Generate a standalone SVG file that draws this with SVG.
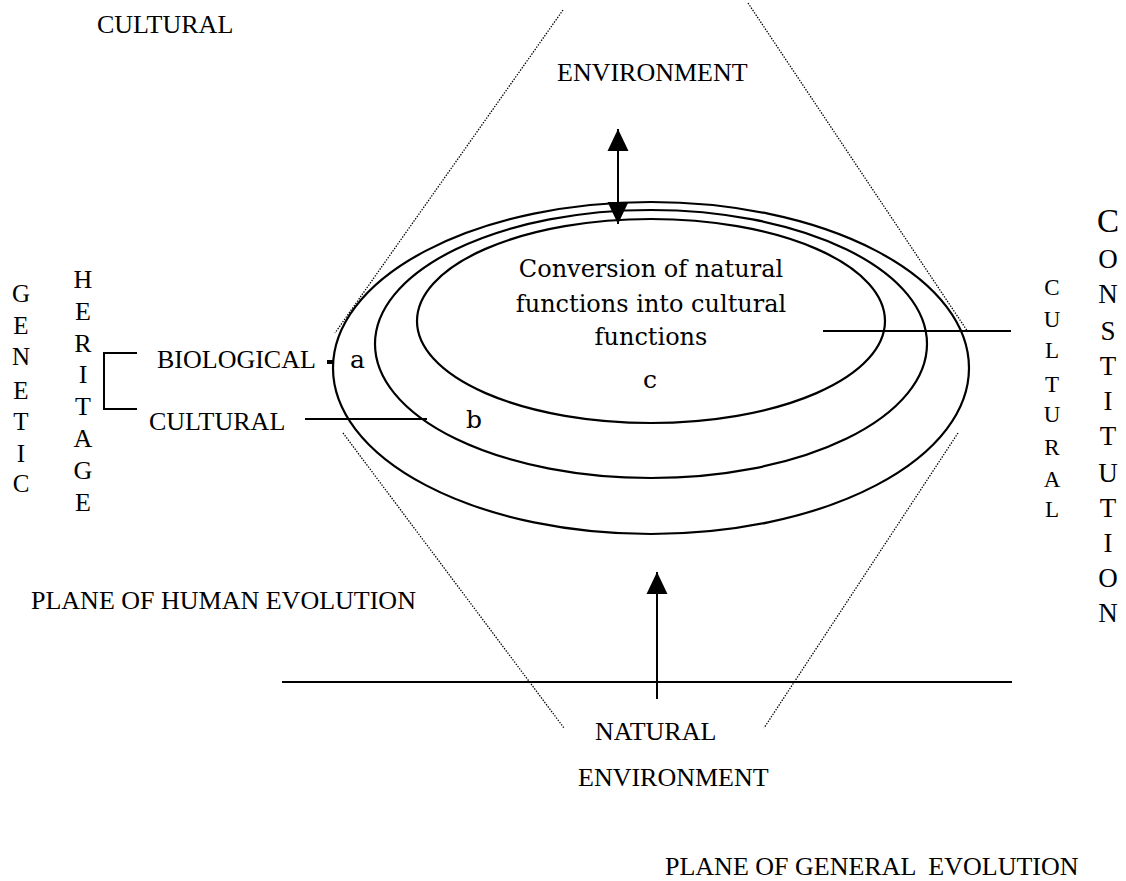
<svg xmlns="http://www.w3.org/2000/svg" width="1126" height="881" viewBox="0 0 1126 881">
<style>
.t{font-family:"Liberation Serif","Times New Roman",serif;font-size:26px;fill:#000}
.v{font-family:"Liberation Serif","Times New Roman",serif;font-size:26px;fill:#000;text-anchor:middle}
.s{font-family:"DejaVu Serif",serif;font-size:24px;fill:#000}
.ln{stroke:#000;stroke-width:2;fill:none}
.el{stroke:#000;stroke-width:2.2;fill:none}
.dot{stroke:#000;stroke-width:1.3;stroke-dasharray:1.4 1.4;fill:none}
</style>
<defs>
<marker id="ah" markerUnits="userSpaceOnUse" markerWidth="22" markerHeight="22" viewBox="0 0 21 20" refX="21" refY="10" orient="auto-start-reverse">
<path d="M0,0 L21,10 L0,20 z" fill="#000"/>
</marker>
</defs>
<rect width="1126" height="881" fill="#fff"/>

<g id="cone">
<line class="dot" x1="563" y1="10" x2="335" y2="333"/>
<line class="dot" x1="748" y1="3" x2="968" y2="332"/>
<line class="dot" x1="343" y1="433" x2="564" y2="728"/>
<line class="dot" x1="958" y1="433" x2="764" y2="728"/>
</g>

<g id="ellipses">
<ellipse id="outer-a" class="el" cx="651" cy="368" rx="318" ry="166"/>
<ellipse id="middle-b" class="el" cx="651" cy="344" rx="276" ry="134"/>
<ellipse id="inner-c" class="el" cx="651" cy="321" rx="234" ry="102"/>
</g>

<g id="connectors">
<line class="ln" x1="618" y1="224" x2="618" y2="129" marker-start="url(#ah)" marker-end="url(#ah)"/>
<line class="ln" x1="657" y1="699" x2="657" y2="572" marker-end="url(#ah)"/>
<line class="ln" x1="282" y1="682" x2="1012" y2="682"/>
<line class="ln" x1="823" y1="331" x2="1011" y2="331"/>
<line class="ln" x1="305" y1="419" x2="427" y2="419"/>
<path class="ln" d="M137,353 H104 V409 H137"/>
<rect x="327" y="360" width="6" height="4" fill="#000"/>
</g>

<g id="label-cultural-environment">
<text class="t" x="97" y="33">CULTURAL</text>
<text class="t" x="557" y="81">ENVIRONMENT</text>
</g>

<g id="label-natural-environment">
<text class="t" x="595" y="740">NATURAL</text>
<text class="t" x="578" y="786">ENVIRONMENT</text>
</g>

<g id="label-planes">
<text class="t" x="31" y="609">PLANE OF HUMAN EVOLUTION</text>
<text class="t" x="665" y="875" xml:space="preserve">PLANE OF GENERAL  EVOLUTION</text>
</g>

<g id="label-heritage">
<text class="t" x="157" y="368">BIOLOGICAL</text>
<text class="t" x="149" y="430">CULTURAL</text>
</g>

<g id="label-genetic" class="v" style="font-size:25px">
<text x="21" y="302">G</text>
<text x="21" y="334">E</text>
<text x="21" y="365">N</text>
<text x="21" y="399">E</text>
<text x="21" y="430">T</text>
<text x="21" y="462">I</text>
<text x="21" y="492">C</text>
</g>

<g id="label-heritage-vertical" class="v">
<text x="83" y="288">H</text>
<text x="83" y="320">E</text>
<text x="83" y="352">R</text>
<text x="83" y="383">I</text>
<text x="83" y="415">T</text>
<text x="83" y="447">A</text>
<text x="83" y="479">G</text>
<text x="83" y="511">E</text>
</g>

<g id="label-cultural-vertical" class="v" style="font-size:23px">
<text x="1052" y="295">C</text>
<text x="1052" y="327">U</text>
<text x="1052" y="358">L</text>
<text x="1052" y="392">T</text>
<text x="1052" y="422">U</text>
<text x="1052" y="455">R</text>
<text x="1052" y="487">A</text>
<text x="1052" y="517">L</text>
</g>

<g id="label-constitution" class="v" style="font-size:27px">
<text x="1108" y="232" style="font-size:33px">C</text>
<text x="1108" y="268">O</text>
<text x="1108" y="303">N</text>
<text x="1108" y="340">S</text>
<text x="1108" y="375">T</text>
<text x="1108" y="410">I</text>
<text x="1108" y="445">T</text>
<text x="1108" y="482">U</text>
<text x="1108" y="517">T</text>
<text x="1108" y="552">I</text>
<text x="1108" y="587">O</text>
<text x="1108" y="622">N</text>
</g>

<g id="label-center">
<text class="s" x="651" y="277" text-anchor="middle">Conversion of natural</text>
<text class="s" x="651" y="312" text-anchor="middle">functions into cultural</text>
<text class="s" x="651" y="345" text-anchor="middle">functions</text>
<text class="s" x="650" y="388" text-anchor="middle" style="font-size:25px">c</text>
</g>

<g id="label-letters">
<text class="s" x="350" y="368" style="font-size:25px">a</text>
<text class="s" x="466" y="428" style="font-size:25px">b</text>
</g>
</svg>
